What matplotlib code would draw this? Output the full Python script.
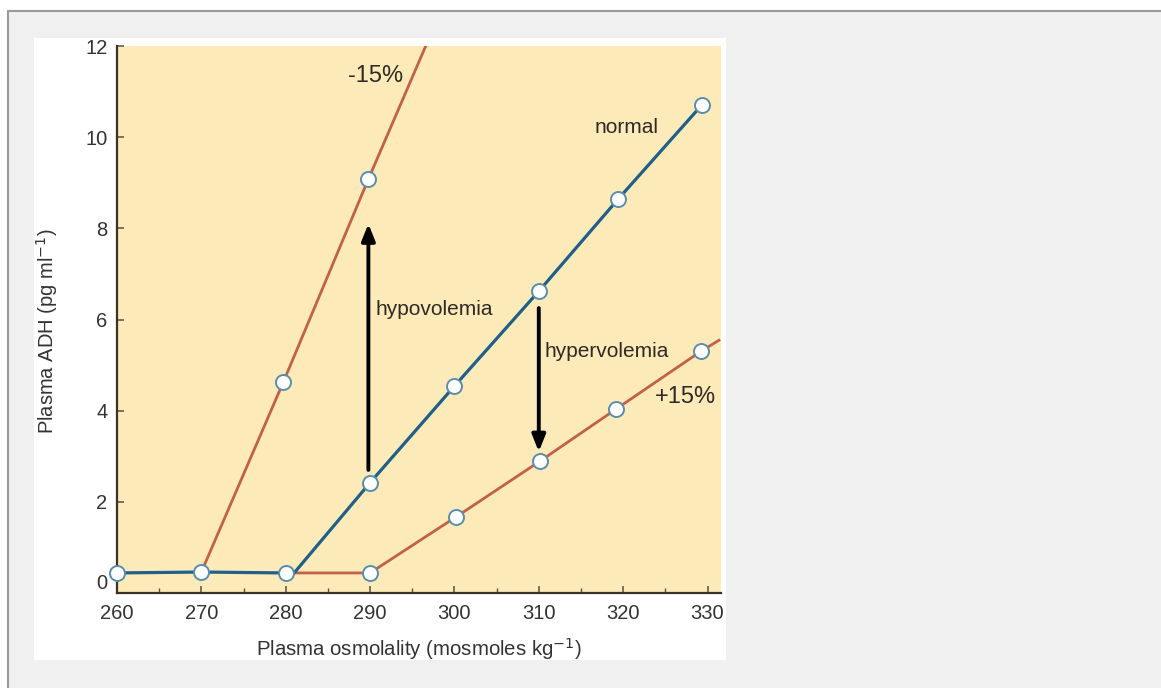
import matplotlib
matplotlib.use("Agg")
import matplotlib.pyplot as plt
from matplotlib.patches import Rectangle

plt.rcParams['font.family'] = ['Liberation Sans', 'DejaVu Sans']

# ---- data ----
normal_x = [260, 270, 280, 281, 290, 300, 310, 319.4, 329.3]
normal_y = [0.44, 0.46, 0.44, 0.44, 2.42, 4.54, 6.62, 8.64, 10.7]
normal_mx = [260, 270, 280, 290, 300, 310, 319.4, 329.3]
normal_my = [0.44, 0.46, 0.44, 2.42, 4.54, 6.62, 8.64, 10.7]

minus_x = [270, 279.7, 289.8, 296.6]
minus_y = [0.46, 4.62, 9.08, 12.0]
minus_mx = [279.7, 289.8]
minus_my = [4.62, 9.08]

plus_x = [280, 290, 300.2, 310.2, 319.2, 329.2, 331.5]
plus_y = [0.44, 0.44, 1.67, 2.9, 4.04, 5.3, 5.56]
plus_mx = [290, 300.2, 310.2, 319.2, 329.2]
plus_my = [0.44, 1.67, 2.9, 4.04, 5.3]

hypo_arrow = (289.8, 2.7, 8.1)    # x, y_from, y_to
hyper_arrow = (310.0, 6.25, 3.1)

xticks = [260, 270, 280, 290, 300, 310, 320, 330]
yticks = [0, 2, 4, 6, 8, 10, 12]

# ---- figure ----
W, H = 1161, 688
fig = plt.figure(figsize=(W / 100, H / 100), dpi=100)
fig.patch.set_facecolor('white')

# grey page panel with border
fig.patches.append(Rectangle((8 / W, -0.01), 1.02 - 8 / W, (H - 11) / H + 0.01,
                             transform=fig.transFigure, facecolor='#f0f0f0',
                             edgecolor='#9a9a9a', lw=1.5, zorder=0))
# white image panel
fig.patches.append(Rectangle((34 / W, (H - 660) / H), 692 / W, 622 / H,
                             transform=fig.transFigure, facecolor='white',
                             edgecolor='none', zorder=1))

ax = fig.add_axes([117 / W, (H - 593) / H, (721 - 117) / W, (593 - 46) / H])
ax.set_zorder(2)
ax.set_facecolor('#fdeab9')
ax.set_xlim(260, 331.6)
ax.set_ylim(0, 12)

blue = '#1f5f88'
red = '#c2614b'
medge = '#5a8db0'

ax.plot(plus_x, plus_y, color=red, lw=2.0, zorder=3, solid_capstyle='butt')
ax.plot(minus_x, minus_y, color=red, lw=2.0, zorder=3, clip_on=True)
ax.plot(normal_x, normal_y, color=blue, lw=2.3, zorder=4)

mk = dict(ls='none', marker='o', ms=10.8, mfc='white', mec=medge, mew=1.4, zorder=6, clip_on=False)
ax.plot(plus_mx, plus_my, **mk)
ax.plot(minus_mx, minus_my, **mk)
ax.plot(normal_mx, normal_my, **mk)

arrowprops = dict(arrowstyle='-|>,head_length=1.0,head_width=0.4', color='black', lw=2.8,
                  shrinkA=0, shrinkB=0)
ax.annotate('', xy=(hypo_arrow[0], hypo_arrow[2]), xytext=(hypo_arrow[0], hypo_arrow[1]),
            arrowprops=arrowprops, zorder=5)
ax.annotate('', xy=(hyper_arrow[0], hyper_arrow[2]), xytext=(hyper_arrow[0], hyper_arrow[1]),
            arrowprops=arrowprops, zorder=5)

tc = '#2e2a26'
ax.text(290.7, 6.22, 'hypovolemia', fontsize=15, color=tc, va='center', ha='left')
ax.text(310.65, 5.3, 'hypervolemia', fontsize=15, color=tc, va='center', ha='left')
ax.text(290.6, 11.34, '-15%', fontsize=17, color=tc, va='center', ha='center')
ax.text(320.4, 10.22, 'normal', fontsize=15, color=tc, va='center', ha='center')
ax.text(327.4, 4.29, '+15%', fontsize=17, color=tc, va='center', ha='center')

ax.set_xticks(xticks)
ax.set_xticks([265, 275, 285, 295, 305, 315, 325], minor=True)
ax.set_yticks(yticks)
ax.tick_params(axis='both', which='major', direction='in', length=5, width=1.1,
               color='#5a5040', labelsize=14.5, labelcolor='#333333')
ax.tick_params(axis='x', which='minor', direction='in', length=3.5, width=1.0, color='#5a5040')
ax.tick_params(axis='x', which='major', pad=8)
ax.tick_params(axis='y', which='major', pad=7)
ax.get_yticklabels()[0].set_va('bottom')

for s in ['top', 'right']:
    ax.spines[s].set_visible(False)
for s in ['left', 'bottom']:
    ax.spines[s].set_color('#3a3226')
    ax.spines[s].set_linewidth(1.6)

ax.set_xlabel('Plasma osmolality (mosmoles kg$^{-1}$)', fontsize=14.7, color='#333333', labelpad=9)
ax.set_ylabel('Plasma ADH (pg ml$^{-1}$)', fontsize=14.5, color='#333333')
ax.yaxis.set_label_coords(-0.095, 0.479)

fig.savefig('out.png', dpi=100, facecolor=fig.get_facecolor())
